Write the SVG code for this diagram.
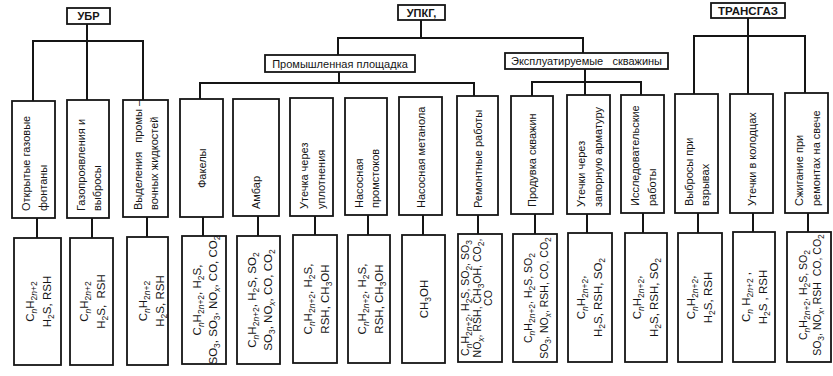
<svg xmlns="http://www.w3.org/2000/svg" width="833" height="376" viewBox="0 0 833 376">
<style>
.b{fill:#fff;stroke:#151515;stroke-width:1.8}
.c{fill:none;stroke:#151515;stroke-width:2}
text{font-family:"Liberation Sans",Arial,sans-serif;fill:#151515}
.h{font-size:11px;font-weight:bold;text-anchor:middle}
.m{font-size:11px;text-anchor:middle}
.v{font-size:11px}
.f{font-size:11.5px;text-anchor:middle}
.f3{font-size:10.5px;text-anchor:middle}
.f2{font-size:10.5px;text-anchor:middle}
.s{font-size:8.5px}
.i{font-size:8.5px;font-style:italic}
</style>
<rect width="833" height="376" fill="#fff"/>
<g id="connectors" class="c">
<path d="M33,101 V41 H143 V100 M87,24 V100"/>
<path d="M338,55 V38 H583 V53 M421,20 V38"/>
<path d="M339,72 V83 M200,99 V83 H474 V96"/>
<path d="M585,69 V95 M532,96 V82 H641 V95"/>
<path d="M694,94 V36 H805 V93 M748,18 V94"/>
<path d="M37,218 V238 M92,218 V238 M147,217 V237 M203,217 V236 M258,216 V236 M315,216 V235 M368,215 V235 M423,215 V235 M478,215 V234 M535,214 V234 M587,214 V233 M643,213 V233 M698,213 V233 M753,213 V232 M808,213 V232"/>
</g>
<g id="ubr"><rect class="b" x="67" y="8" width="43" height="16"/><text class="h" x="88.5" y="20">УБР</text></g>
<g id="upkg"><rect class="b" x="398" y="5" width="47" height="15"/><text class="h" x="421.5" y="17">УПКГ,</text></g>
<g id="transgaz"><rect class="b" x="711" y="3" width="74" height="15"/><text class="h" x="748" y="15" style="font-size:11.5px">ТРАНСГАЗ</text></g>
<g id="prom"><rect class="b" x="265" y="55" width="150" height="17"/><text class="m" x="340" y="67.5">Промышленная площадка</text></g>
<g id="expl"><rect class="b" x="505" y="53" width="163" height="16"/><text class="m" x="586.5" y="65">Эксплуатируемые&#160;&#160; скважины</text></g>

<g id="m1"><rect class="b" x="12" y="101" width="43" height="117"/><text class="v" transform="translate(30,211) rotate(-90)"><tspan x="0" y="0">Открытые газовые</tspan><tspan x="0" y="17">фонтаны</tspan></text></g>
<g id="m2"><rect class="b" x="67" y="100" width="42" height="118"/><text class="v" transform="translate(84.5,211) rotate(-90)"><tspan x="0" y="0">Газопроявления и</tspan><tspan x="0" y="16">выбросы</tspan></text></g>
<g id="m3"><rect class="b" x="123" y="100" width="45" height="117"/><text class="v" transform="translate(142,210) rotate(-90)"><tspan x="0" y="0">Выделения&#160;&#160; промы –</tspan><tspan x="0" y="16">вочных жидкостей</tspan></text></g>
<g id="m4"><rect class="b" x="180" y="99" width="43" height="118"/><text class="v" transform="translate(205.5,188) rotate(-90)">Факелы</text></g>
<g id="m5"><rect class="b" x="233" y="99" width="46" height="117"/><text class="v" transform="translate(260,209) rotate(-90)">Амбар</text></g>
<g id="m6"><rect class="b" x="290" y="98" width="43" height="118"/><text class="v" transform="translate(308,209) rotate(-90)"><tspan x="0" y="0">Утечка через</tspan><tspan x="0" y="17">уплотнения</tspan></text></g>
<g id="m7"><rect class="b" x="345" y="98" width="42" height="117"/><text class="v" transform="translate(362.5,208) rotate(-90)"><tspan x="0" y="0">Насосная</tspan><tspan x="0" y="16">промстоков</tspan></text></g>
<g id="m8"><rect class="b" x="399" y="97" width="43" height="118"/><text class="v" transform="translate(424.5,208) rotate(-90)">Насосная метанола</text></g>
<g id="m9"><rect class="b" x="457" y="96" width="41" height="119"/><text class="v" transform="translate(481.5,208) rotate(-90)">Ремонтные работы</text></g>
<g id="m10"><rect class="b" x="511" y="96" width="42" height="118"/><text class="v" transform="translate(536,207) rotate(-90)">Продувка скважин</text></g>
<g id="m11"><rect class="b" x="567" y="95" width="43" height="119"/><text class="v" transform="translate(585,207) rotate(-90)"><tspan x="0" y="0">Утечки через</tspan><tspan x="0" y="17">запорную арматуру</tspan></text></g>
<g id="m12"><rect class="b" x="621" y="95" width="43" height="118"/><text class="v" transform="translate(639,206) rotate(-90)"><tspan x="0" y="0">Исследовательские</tspan><tspan x="0" y="17">работы</tspan></text></g>
<g id="m13"><rect class="b" x="675" y="94" width="43" height="119"/><text class="v" transform="translate(693,206) rotate(-90)"><tspan x="0" y="0">Выбросы при</tspan><tspan x="0" y="16">взрывах</tspan></text></g>
<g id="m14"><rect class="b" x="730" y="94" width="43" height="119"/><text class="v" transform="translate(755.5,206) rotate(-90)">Утечки в колодцах</text></g>
<g id="m15"><rect class="b" x="785" y="93" width="43" height="120"/><text class="v" transform="translate(803,206) rotate(-90)"><tspan x="0" y="0">Сжигание при</tspan><tspan x="0" y="17">ремонтах на свече</tspan></text></g>

<g id="e1"><rect class="b" x="14" y="238" width="47" height="127"/><text class="f" transform="translate(34,301.5) rotate(-90)"><tspan x="0" y="0">C<tspan class="i" dy="3">n</tspan><tspan dy="-3">H</tspan><tspan class="s" dy="3">2<tspan class="i">n</tspan>+2</tspan></tspan><tspan x="0" y="17">H<tspan class="s" dy="3">2</tspan><tspan dy="-3">S, RSH</tspan></tspan></text></g>
<g id="e2"><rect class="b" x="70" y="238" width="43" height="127"/><text class="f" transform="translate(88,301.5) rotate(-90)"><tspan x="0" y="0">C<tspan class="i" dy="3">n</tspan><tspan dy="-3">H</tspan><tspan class="s" dy="3">2<tspan class="i">n</tspan>+2</tspan></tspan><tspan x="0" y="17">H<tspan class="s" dy="3">2</tspan><tspan dy="-3">S,&#160; RSH</tspan></tspan></text></g>
<g id="e3"><rect class="b" x="127" y="237" width="41" height="128"/><text class="f" transform="translate(147,301) rotate(-90)"><tspan x="0" y="0">C<tspan class="i" dy="3">n</tspan><tspan dy="-3">H</tspan><tspan class="s" dy="3">2<tspan class="i">n</tspan>+2</tspan></tspan><tspan x="0" y="17">H<tspan class="s" dy="3">2</tspan><tspan dy="-3">S, RSH</tspan></tspan></text></g>
<g id="e4"><rect class="b" x="182" y="236" width="44" height="128"/><text class="f" transform="translate(201,300) rotate(-90)"><tspan x="0" y="0">C<tspan class="i" dy="3">n</tspan><tspan dy="-3">H</tspan><tspan class="s" dy="3">2<tspan class="i">n</tspan>+2</tspan><tspan dy="-3">, H</tspan><tspan class="s" dy="3">2</tspan><tspan dy="-3">S,</tspan></tspan><tspan x="0" y="16">SO<tspan class="s" dy="3">3</tspan><tspan dy="-3">, SO</tspan><tspan class="s" dy="3">3</tspan><tspan dy="-3">, NO</tspan><tspan class="i" dy="3">x</tspan><tspan dy="-3">, CO, CO</tspan><tspan class="s" dy="3">2</tspan></tspan></text></g>
<g id="e5"><rect class="b" x="237" y="236" width="43" height="128"/><text class="f" transform="translate(255.5,300) rotate(-90)"><tspan x="0" y="0">C<tspan class="i" dy="3">n</tspan><tspan dy="-3">H</tspan><tspan class="s" dy="3">2<tspan class="i">n</tspan>+2</tspan><tspan dy="-3">, H</tspan><tspan class="s" dy="3">2</tspan><tspan dy="-3">S, SO</tspan><tspan class="s" dy="3">2</tspan></tspan><tspan x="0" y="16">SO<tspan class="s" dy="3">3</tspan><tspan dy="-3">, NO</tspan><tspan class="i" dy="3">x</tspan><tspan dy="-3">, CO, CO</tspan><tspan class="s" dy="3">2</tspan></tspan></text></g>
<g id="e6"><rect class="b" x="293" y="235" width="44" height="128"/><text class="f" transform="translate(312,299) rotate(-90)"><tspan x="0" y="0">C<tspan class="i" dy="3">n</tspan><tspan dy="-3">H</tspan><tspan class="s" dy="3">2<tspan class="i">n</tspan>+2</tspan><tspan dy="-3">, H</tspan><tspan class="s" dy="3">2</tspan><tspan dy="-3">S,</tspan></tspan><tspan x="0" y="17">RSH, CH<tspan class="s" dy="3">3</tspan><tspan dy="-3">OH</tspan></tspan></text></g>
<g id="e7"><rect class="b" x="348" y="235" width="42" height="128"/><text class="f" transform="translate(366,299) rotate(-90)"><tspan x="0" y="0">C<tspan class="i" dy="3">n</tspan><tspan dy="-3">H</tspan><tspan class="s" dy="3">2<tspan class="i">n</tspan>+2</tspan><tspan dy="-3">, H</tspan><tspan class="s" dy="3">2</tspan><tspan dy="-3">S,</tspan></tspan><tspan x="0" y="17">RSH, CH<tspan class="s" dy="3">3</tspan><tspan dy="-3">OH</tspan></tspan></text></g>
<g id="e8"><rect class="b" x="402" y="235" width="43" height="128"/><text class="f" transform="translate(428,299) rotate(-90)">CH<tspan class="s" dy="3">3</tspan><tspan dy="-3">OH</tspan></text></g>
<g id="e9"><rect class="b" x="458" y="234" width="44" height="128"/><text class="f3" transform="translate(469,298) rotate(-90)"><tspan x="0" y="0">C<tspan class="i" dy="3">n</tspan><tspan dy="-3">H</tspan><tspan class="s" dy="3">2<tspan class="i">n</tspan>+2</tspan><tspan dy="-3">, H</tspan><tspan class="s" dy="3">2</tspan><tspan dy="-3">S, SO</tspan><tspan class="s" dy="3">2</tspan><tspan dy="-3">, SO</tspan><tspan class="s" dy="3">3</tspan></tspan><tspan x="0" y="12">NO<tspan class="i" dy="3">x</tspan><tspan dy="-3">, RSH, CH</tspan><tspan class="s" dy="3">3</tspan><tspan dy="-3">OH, CO</tspan><tspan class="s" dy="3">2</tspan><tspan dy="-3">,</tspan></tspan><tspan x="0" y="23">CO</tspan></text></g>
<g id="e10"><rect class="b" x="513" y="234" width="44" height="128"/><text class="f2" transform="translate(532,298) rotate(-90)"><tspan x="0" y="0">C<tspan class="i" dy="3">n</tspan><tspan dy="-3">H</tspan><tspan class="s" dy="3">2<tspan class="i">n</tspan>+2</tspan><tspan dy="-3">, H</tspan><tspan class="s" dy="3">2</tspan><tspan dy="-3">S, SO</tspan><tspan class="s" dy="3">2</tspan></tspan><tspan x="0" y="16">SO<tspan class="s" dy="3">3</tspan><tspan dy="-3">, NO</tspan><tspan class="i" dy="3">x</tspan><tspan dy="-3">, RSH, CO, CO</tspan><tspan class="s" dy="3">2</tspan></tspan></text></g>
<g id="e11"><rect class="b" x="568" y="233" width="44" height="129"/><text class="f" transform="translate(585,297.5) rotate(-90)"><tspan x="0" y="0">C<tspan class="i" dy="3">n</tspan><tspan dy="-3">H</tspan><tspan class="s" dy="3">2<tspan class="i">n</tspan>+2</tspan><tspan dy="-3">,</tspan></tspan><tspan x="0" y="17">H<tspan class="s" dy="3">2</tspan><tspan dy="-3">S, RSH, SO</tspan><tspan class="s" dy="3">2</tspan></tspan></text></g>
<g id="e12"><rect class="b" x="625" y="233" width="42" height="129"/><text class="f" transform="translate(641,297.5) rotate(-90)"><tspan x="0" y="0">C<tspan class="i" dy="3">n</tspan><tspan dy="-3">H</tspan><tspan class="s" dy="3">2<tspan class="i">n</tspan>+2</tspan><tspan dy="-3">,</tspan></tspan><tspan x="0" y="17">H<tspan class="s" dy="3">2</tspan><tspan dy="-3">S, RSH, SO</tspan><tspan class="s" dy="3">2</tspan></tspan></text></g>
<g id="e13"><rect class="b" x="678" y="233" width="44" height="129"/><text class="f" transform="translate(695,297.5) rotate(-90)"><tspan x="0" y="0">C<tspan class="i" dy="3">n</tspan><tspan dy="-3">H</tspan><tspan class="s" dy="3">2<tspan class="i">n</tspan>+2</tspan><tspan dy="-3">,</tspan></tspan><tspan x="0" y="17">H<tspan class="s" dy="3">2</tspan><tspan dy="-3">S, RSH</tspan></tspan></text></g>
<g id="e14"><rect class="b" x="733" y="232" width="42" height="130"/><text class="f" transform="translate(750,297) rotate(-90)"><tspan x="0" y="0">C<tspan class="i" dy="3">n</tspan><tspan dy="-3"> H</tspan><tspan class="s" dy="3">2<tspan class="i">n</tspan>+2</tspan><tspan dy="-3"> ,</tspan></tspan><tspan x="0" y="17">H<tspan class="s" dy="3">2</tspan><tspan dy="-3">S , RSH</tspan></tspan></text></g>
<g id="e15"><rect class="b" x="787" y="232" width="44" height="130"/><text class="f2" transform="translate(807,295) rotate(-90)"><tspan x="0" y="0">C<tspan class="i" dy="3">n</tspan><tspan dy="-3">H</tspan><tspan class="s" dy="3">2<tspan class="i">n</tspan>+2</tspan><tspan dy="-3">, H</tspan><tspan class="s" dy="3">2</tspan><tspan dy="-3">S, SO</tspan><tspan class="s" dy="3">2</tspan></tspan><tspan x="0" y="14">SO<tspan class="s" dy="3">3</tspan><tspan dy="-3">, NO</tspan><tspan class="i" dy="3">x</tspan><tspan dy="-3">, RSH&#160; CO, CO</tspan><tspan class="s" dy="3">2</tspan></tspan></text></g>
</svg>
